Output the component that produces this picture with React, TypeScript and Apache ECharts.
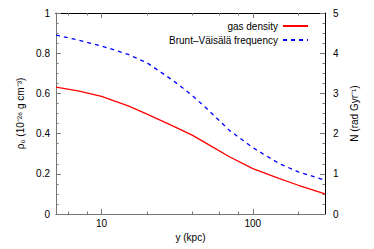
import React, { useEffect, useRef } from "react";
import * as echarts from "echarts";

const xValues = [5, 7, 10, 15, 20, 30, 40, 50, 70, 100, 150, 200, 300];
const gasDensity = [0.631, 0.613, 0.585, 0.538, 0.497, 0.436, 0.391, 0.349, 0.285, 0.226, 0.176, 0.143, 0.1];
const bruntFreq = [4.45, 4.33, 4.18, 3.97, 3.76, 3.31, 2.94, 2.61, 2.08, 1.65, 1.25, 1.05, 0.84];
const majorXTicks = [10, 100];
const minorXTicks = [6, 8, 20, 40, 60, 80, 200];

const FONT = "'Liberation Sans', Arial, sans-serif";

export default function App() {
  const ref = useRef<HTMLDivElement>(null);
  useEffect(() => {
    if (!ref.current) return;
    const chart = echarts.init(ref.current, undefined, { renderer: "svg" });
    const gridCfg = { left: 56, right: 49, top: 13, bottom: 35 };
    const baseX = (position: string, ticks: number[], len: number, labels: boolean, lineColor: string, name?: string) => ({
      type: "log",
      logBase: 10,
      min: 5,
      max: 300,
      position,
      name: name || "",
      nameLocation: "middle",
      nameGap: 17,
      nameTextStyle: { fontFamily: FONT, fontSize: 10, color: "#000" },
      axisLine: { show: true, lineStyle: { color: lineColor, width: 1 } },
      axisTick: { show: true, inside: true, length: len, customValues: ticks, lineStyle: { color: "#777" } },
      axisLabel: labels
        ? { show: true, customValues: majorXTicks, margin: 4, fontFamily: FONT, fontSize: 10, color: "#000" }
        : { show: false },
      splitLine: { show: false },
      minorTick: { show: false },
    });
    chart.setOption({
      animation: false,
      grid: gridCfg,
      legend: {
        orient: "vertical",
        right: 60,
        top: 16,
        align: "right",
        itemWidth: 25,
        itemHeight: 10,
        itemGap: 4,
        itemStyle: { opacity: 0 },
        textStyle: { fontFamily: FONT, fontSize: 10, color: "#000" },
        data: ["gas density", "Brunt–Väisälä frequency"],
      },
      xAxis: [
        baseX("bottom", majorXTicks, 5, true, "#777", "y (kpc)"),
        baseX("bottom", minorXTicks, 2.5, false, "#777"),
        baseX("top", majorXTicks, 5, false, "#000"),
        baseX("top", minorXTicks, 2.5, false, "#000"),
      ],
      yAxis: [
        {
          type: "value",
          min: 0,
          max: 1,
          interval: 0.2,
          position: "left",
          name: "ρ₀ (10⁻²⁶ g cm⁻³)",
          nameLocation: "middle",
          nameRotate: 90,
          nameGap: 28,
          nameTextStyle: { fontFamily: FONT, fontSize: 10, color: "#000" },
          axisLine: { show: true, lineStyle: { color: "#777" } },
          axisTick: { show: true, inside: true, length: 5, lineStyle: { color: "#777" } },
          minorTick: { show: true, splitNumber: 4, length: 2.5, lineStyle: { color: "#777" } },
          axisLabel: { margin: 6, fontFamily: FONT, fontSize: 10, color: "#000" },
          splitLine: { show: false },
        },
        {
          type: "value",
          min: 0,
          max: 5,
          interval: 1,
          position: "right",
          name: "N (rad Gyr⁻¹)",
          nameLocation: "middle",
          nameRotate: 90,
          nameGap: 22,
          nameTextStyle: { fontFamily: FONT, fontSize: 10, color: "#000" },
          axisLine: { show: true, lineStyle: { color: "#000" } },
          axisTick: { show: true, inside: true, length: 5, lineStyle: { color: "#777" } },
          minorTick: { show: true, splitNumber: 4, length: 2.5, lineStyle: { color: "#777" } },
          axisLabel: { margin: 8, fontFamily: FONT, fontSize: 10, color: "#000" },
          splitLine: { show: false },
        },
      ],
      series: [
        {
          name: "gas density",
          type: "line",
          xAxisIndex: 0,
          yAxisIndex: 0,
          smooth: false,
          symbol: "none",
          data: xValues.map((x, i) => [x, gasDensity[i]]),
          lineStyle: { color: "#ff0000", width: 1.3 },
          itemStyle: { color: "#ff0000" },
        },
        {
          name: "Brunt–Väisälä frequency",
          type: "line",
          xAxisIndex: 0,
          yAxisIndex: 1,
          smooth: false,
          symbol: "none",
          data: xValues.map((x, i) => [x, bruntFreq[i]]),
          lineStyle: { color: "#0000ff", width: 1.3, type: [4, 4] },
          itemStyle: { color: "#0000ff" },
        },
      ],
    });
    return () => chart.dispose();
  }, []);
  return <div ref={ref} style={{ width: 374, height: 249, position: "absolute", left: 0, top: 0 }} />;
}
